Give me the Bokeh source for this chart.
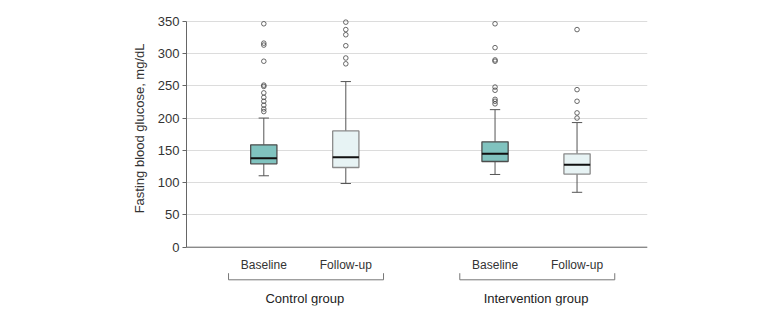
import math
from bokeh.plotting import figure
from bokeh.models import FixedTicker, Span, Title, ColumnDataSource
from bokeh.core.properties import value
from bokeh.embed import file_html
from bokeh.resources import INLINE

# ---------------- data ----------------
group_names = ["Control group", "Intervention group"]
visit_labels = ["Baseline", "Follow-up", "Baseline", "Follow-up"]
visit_group = [0, 0, 1, 1]
x_pos = [1.0, 2.0, 3.82, 4.82]

lower_whisker = [110.6, 98.6, 112.6, 85.0]
q1 = [129.1, 123.4, 132.7, 113.2]
median = [137.6, 139.4, 144.6, 127.6]
q3 = [158.6, 180.0, 163.2, 144.6]
upper_whisker = [200.0, 256.5, 213.0, 193.0]

outliers_control_baseline = [346, 316, 313, 288, 251, 249, 239, 232, 226, 220, 214, 210]
outliers_control_followup = [348.5, 337, 329, 312, 293, 284]
outliers_intervention_baseline = [346, 309, 290, 288, 248, 243, 229, 226, 222]
outliers_intervention_followup = [337, 244, 226, 208, 200]
outlier_sets = [outliers_control_baseline, outliers_control_followup,
                outliers_intervention_baseline, outliers_intervention_followup]

y_ticks = [0, 50, 100, 150, 200, 250, 300, 350]
y_title = "Fasting blood glucose, mg/dL"

# ---------------- style / layout ----------------
FONT = "Liberation Sans"
box_fill = ["#80c3bf", "#e7f3f4", "#80c3bf", "#e7f3f4"]
box_line = ["#4d4d4d", "#8a8a8a", "#4d4d4d", "#8a8a8a"]
BOX_W = 0.32
CAP_W = 0.126

x_start, x_end = 0.0573, 0.0573 + 461 / 82
y_start, y_end = -90.3, 374.3

p = figure(width=780, height=312, output_backend="svg", toolbar_location=None,
           x_range=(x_start, x_end), y_range=(y_start, y_end),
           x_axis_location=None, min_border_left=186, min_border_right=133,
           min_border_top=5, min_border_bottom=7, background_fill_color="white")
p.outline_line_color = None
p.xgrid.visible = False

ax = p.yaxis[0]
ax.ticker = FixedTicker(ticks=y_ticks)
ax.bounds = (0, 350)
ax.axis_line_color = "#666666"
ax.major_tick_line_color = "#666666"
ax.major_tick_out = 4
ax.major_tick_in = 0
ax.minor_tick_line_color = None
ax.major_label_standoff = 3
ax.major_label_text_font = FONT
ax.major_label_text_font_size = "13px"
ax.major_label_text_color = "#333333"
p.ygrid.grid_line_color = "#dcdcdc"
p.ygrid.grid_line_width = 1

p.add_layout(Span(location=0, dimension="width", line_color="#666666", line_width=1))

# whiskers
src = ColumnDataSource(dict(
    x=x_pos, lo=lower_whisker, q1=q1, med=median, q3=q3, hi=upper_whisker,
    left=[x - BOX_W / 2 for x in x_pos], right=[x + BOX_W / 2 for x in x_pos],
    cl=[x - CAP_W / 2 for x in x_pos], cr=[x + CAP_W / 2 for x in x_pos],
    fill=box_fill, line=box_line))
p.segment(x0="x", x1="x", y0="q3", y1="hi", source=src, line_color="#555555", line_width=1)
p.segment(x0="x", x1="x", y0="lo", y1="q1", source=src, line_color="#555555", line_width=1)
p.segment(x0="cl", x1="cr", y0="hi", y1="hi", source=src, line_color="#555555", line_width=1)
p.segment(x0="cl", x1="cr", y0="lo", y1="lo", source=src, line_color="#555555", line_width=1)
# boxes
p.vbar(x="x", width=BOX_W, bottom="q1", top="q3", source=src,
       fill_color="fill", line_color="line", line_width=1.3)
p.segment(x0="left", x1="right", y0="med", y1="med", source=src,
          line_color="#111111", line_width=2)

# outliers
ox, oy = [], []
for xp, vals in zip(x_pos, outlier_sets):
    ox += [xp] * len(vals)
    oy += vals
p.scatter(ox, oy, marker="circle", size=4.6, fill_color=None,
          line_color="#444444", line_width=0.8)

# category labels
p.text(x=x_pos, y=[-27.3] * len(x_pos), text=visit_labels, text_align="center",
       text_baseline="alphabetic", text_font=value(FONT), text_font_size=value("12px"),
       text_color="#333333")

# group brackets and labels
for gi, name in enumerate(group_names):
    xs = [x for x, g in zip(x_pos, visit_group) if g == gi]
    lo_x, hi_x = min(xs) - 0.43, max(xs) + 0.46
    p.line([lo_x, lo_x, hi_x, hi_x], [-40.3, -50.5, -50.5, -40.3],
           line_color="#777777", line_width=1)
    p.text(x=[(min(xs) + max(xs)) / 2], y=[-79.4], text=[name], text_align="center",
           text_baseline="alphabetic", text_font=value(FONT),
           text_font_size=value("13px"), text_color="#222222")

# y-axis title (placed in the left panel, shifted to centre on the 0-350 span)
p.add_layout(Title(text=y_title, align="right", offset=38, text_font=FONT,
                   text_font_size="13px", text_font_style="normal",
                   text_color="#333333", standoff=16), "left")

open("out.html", "w").write(file_html(p, INLINE))
